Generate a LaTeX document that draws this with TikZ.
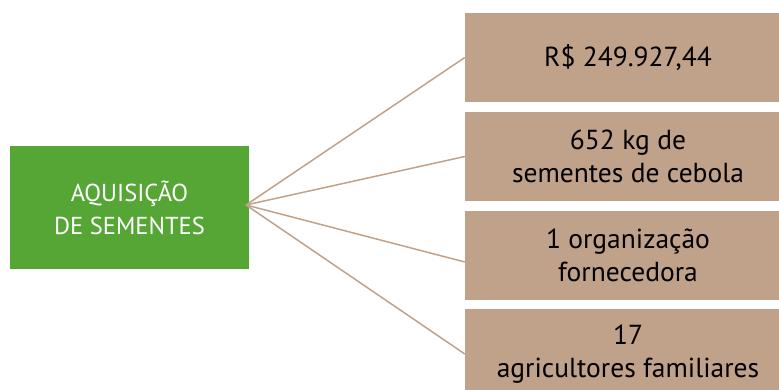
\documentclass[tikz,border=0pt]{standalone}
\usepackage{fontspec}
\setmainfont{PT Sans}
\definecolor{seedgreen}{HTML}{56A636}
\definecolor{boxbrown}{HTML}{C0A18A}
\begin{document}
\begin{tikzpicture}[x=1pt,y=-1pt,
  greenbox/.style={fill=seedgreen, draw=none, minimum width=239pt, minimum height=123pt, text=white, align=center, font=\fontsize{24.5}{33}\selectfont, inner sep=0pt},
  brownbox/.style={fill=boxbrown, draw=none, minimum width=314pt, minimum height=89pt, align=center, inner sep=0pt},
  boxtext/.style={font=\fontsize{27.5}{33}\selectfont, align=center, inner sep=0pt},
  link/.style={draw=boxbrown, line width=1.5pt}]
\useasboundingbox (0,0) rectangle (779,390);
\node[greenbox] (g) at (129.5,207.5) {AQUISIÇÃO\\DE SEMENTES};
\node[brownbox] (b1) at (622,57.5) {};
\node[brownbox] (b2) at (622,156.5) {};
\node[brownbox] (b3) at (622,255.5) {};
\node[brownbox, minimum height=81pt] (b4) at (622,349.5) {};
\node[boxtext] (t1) at (628,57.5) {R\$ 249.927,44};
\node[boxtext] (t2) at (628,156.5) {652 kg de\\sementes de cebola};
\node[boxtext] (t3) at (628,255.5) {1 organização\\fornecedora};
\node[boxtext] (t4) at (628,354) {17\\agricultores familiares};
\coordinate (o) at (246,205);
\coordinate (e1) at (b1.west);
\coordinate (e2) at (b2.west);
\coordinate (e3) at ([yshift=-6.5pt]b3.west);
\coordinate (e4) at ([yshift=-4.5pt]b4.west);
\draw[link] (o) -- (e1);
\draw[link] (o) -- (e2);
\draw[link] (o) -- (e3);
\draw[link] (o) -- (e4);
\end{tikzpicture}
\end{document}
